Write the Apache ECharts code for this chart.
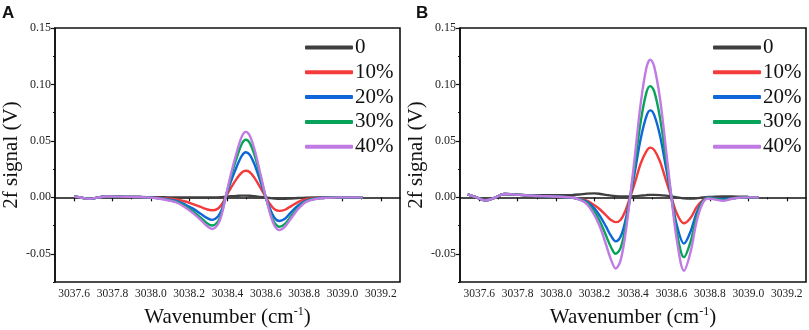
<!DOCTYPE html>
<html>
<head>
<meta charset="utf-8">
<script src="https://cdn.jsdelivr.net/npm/echarts@6/dist/echarts.min.js"></script>
<style>
  html, body { margin: 0; padding: 0; background: #fff; }
  #chart { width: 809px; height: 330px; }
</style>
</head>
<body>
<div id="chart"></div>
<script>
// concentration levels, one curve each
const levels = ["0", "10%", "20%", "30%", "40%"]

// panel A
const wavenumberA = [3037.60, 3037.64, 3037.68, 3037.72, 3037.76, 3037.80, 3037.86, 3037.92, 3037.98, 3038.04,
  3038.10, 3038.14, 3038.18, 3038.22, 3038.26, 3038.29, 3038.32, 3038.35, 3038.37, 3038.39,
  3038.42, 3038.45, 3038.475, 3038.495, 3038.515, 3038.54, 3038.57, 3038.60, 3038.625, 3038.645,
  3038.67, 3038.70, 3038.73, 3038.77, 3038.81, 3038.86, 3038.92, 3038.98, 3039.04, 3039.105]
const signalA0 = [0.0008, -0.0004, -0.0012, -0.0003, 0.0007, 0.0008, 0.0005, 0.0003, 0.0002, 0.0001,
  0, 0, 0, 0, 0, 0, 0, 0, 0.0002, 0.0005,
  0.0009, 0.0013, 0.0015, 0.0015, 0.0014, 0.001, 0.0004, -0.0002, -0.0007, -0.001,
  -0.0012, -0.0012, -0.001, -0.0006, -0.0003, -0.0001, 0, 0, 0, 0]
const signalA10 = [0.0008, -0.0004, -0.0012, -0.0003, 0.0007, 0.0008, 0.0005, 0.0003, 0, -0.0005,
  -0.0012, -0.002, -0.0037, -0.006, -0.0085, -0.0105, -0.0115, -0.010, -0.0062, 0,
  0.009, 0.017, 0.022, 0.0235, 0.0225, 0.0175, 0.009, 0, -0.0068, -0.0105,
  -0.012, -0.011, -0.008, -0.004, -0.0016, -0.0006, -0.0002, 0, 0, 0]
const signalA20 = [0.0008, -0.0004, -0.0012, -0.0003, 0.0007, 0.0008, 0.0005, 0.0003, 0, -0.0007,
  -0.002, -0.0035, -0.0065, -0.010, -0.0145, -0.018, -0.020, -0.017, -0.011, 0,
  0.015, 0.028, 0.037, 0.040, 0.038, 0.0295, 0.015, 0, -0.0115, -0.018,
  -0.021, -0.019, -0.0135, -0.007, -0.003, -0.001, -0.0003, 0, 0, 0]
const signalA30 = [0.0008, -0.0004, -0.0012, -0.0003, 0.0007, 0.0008, 0.0005, 0.0003, 0, -0.0009,
  -0.0027, -0.0045, -0.008, -0.0125, -0.018, -0.0225, -0.025, -0.0215, -0.0135, 0,
  0.0195, 0.036, 0.0475, 0.051, 0.0485, 0.038, 0.0195, 0, -0.0145, -0.0225,
  -0.026, -0.0235, -0.017, -0.009, -0.0035, -0.0013, -0.0004, 0, 0, 0]
const signalA40 = [0.0008, -0.0004, -0.0012, -0.0003, 0.0007, 0.0008, 0.0005, 0.0003, 0, -0.001,
  -0.003, -0.005, -0.009, -0.014, -0.020, -0.025, -0.028, -0.024, -0.015, 0,
  0.022, 0.041, 0.054, 0.058, 0.055, 0.043, 0.022, 0, -0.016, -0.025,
  -0.029, -0.026, -0.019, -0.010, -0.004, -0.0015, -0.0005, 0, 0, 0]

// panel B
const wavenumberB = [3037.54, 3037.58, 3037.63, 3037.68, 3037.73, 3037.78, 3037.84, 3037.90, 3037.96, 3038.02,
  3038.08, 3038.12, 3038.16, 3038.20, 3038.23, 3038.26, 3038.285, 3038.31, 3038.335, 3038.36,
  3038.385, 3038.41, 3038.44, 3038.47, 3038.49, 3038.51, 3038.54, 3038.57, 3038.60, 3038.63,
  3038.665, 3038.70, 3038.73, 3038.76, 3038.79, 3038.83, 3038.87, 3038.91, 3038.96, 3039.00, 3039.055]
const signalB0 = [0.0027, 0.0005, -0.0027, -0.0005, 0.003, 0.0025, 0.002, 0.0018, 0.0018, 0.0018,
  0.002, 0.0025, 0.0033, 0.0035, 0.003, 0.0022, 0.0015, 0.001, 0.0008, 0.0007,
  0.0008, 0.001, 0.0015, 0.002, 0.0022, 0.0022, 0.002, 0.0015, 0.0008, 0,
  -0.0008, -0.001, -0.0008, -0.0002, 0.0003, 0.0006, 0.0007, 0.0007, 0.0006, 0.0005, null]
const signalB10 = [0.0027, 0.0005, -0.0027, -0.0005, 0.003, 0.0025, 0.0018, 0.0012, 0.001, 0.0005,
  -0.0002, -0.0012, -0.003, -0.007, -0.011, -0.016, -0.020, -0.022, -0.020, -0.012,
  0, 0.013, 0.030, 0.041, 0.044, 0.042, 0.032, 0.016, 0, -0.015,
  -0.023, -0.018, -0.009, -0.003, 0, -0.0008, -0.0018, -0.001, 0, 0, 0]
const signalB20 = [0.0027, 0.0005, -0.0027, -0.0005, 0.003, 0.0025, 0.0018, 0.0012, 0.001, 0.0005,
  -0.0002, -0.0015, -0.004, -0.010, -0.017, -0.026, -0.034, -0.039, -0.035, -0.021,
  0, 0.023, 0.052, 0.072, 0.077, 0.073, 0.055, 0.028, 0, -0.026,
  -0.041, -0.030, -0.014, -0.004, 0, -0.001, -0.0015, -0.001, 0, 0, 0]
const signalB30 = [0.0027, 0.0005, -0.0027, -0.0005, 0.003, 0.0025, 0.0018, 0.0012, 0.001, 0.0005,
  -0.0002, -0.0018, -0.005, -0.013, -0.022, -0.034, -0.044, -0.050, -0.045, -0.027,
  0, 0.030, 0.067, 0.093, 0.0985, 0.094, 0.071, 0.036, 0, -0.033,
  -0.053, -0.039, -0.018, -0.005, -0.0005, -0.0015, -0.0025, -0.0012, -0.0003, 0, 0]
const signalB40 = [0.0027, 0.0005, -0.0027, -0.0005, 0.003, 0.0025, 0.0018, 0.0012, 0.001, 0.0005,
  -0.0002, -0.002, -0.006, -0.016, -0.027, -0.042, -0.055, -0.063, -0.056, -0.033,
  0, 0.037, 0.083, 0.115, 0.122, 0.116, 0.088, 0.045, 0, -0.040,
  -0.065, -0.048, -0.022, -0.006, -0.001, -0.002, -0.003, -0.0015, -0.0003, 0, 0]

// axis ticks
const xTicks = [3037.6, 3037.8, 3038.0, 3038.2, 3038.4, 3038.6, 3038.8, 3039.0, 3039.2]
const xMinorTicks = [3037.7, 3037.9, 3038.1, 3038.3, 3038.5, 3038.7, 3038.9, 3039.1]
const yTicks = [-0.05, 0, 0.05, 0.10, 0.15]
const yMinorTicks = [-0.075, -0.025, 0.025, 0.075, 0.125]

const panels = [
  { label: "A", x: wavenumberA, ys: [signalA0, signalA10, signalA20, signalA30, signalA40] },
  { label: "B", x: wavenumberB, ys: [signalB0, signalB10, signalB20, signalB30, signalB40] },
]

const colors = ["#3f3f3f", "#f43b3b", "#0e66d8", "#08a35a", "#c07ae4"]
const serif = "'Liberation Serif', 'Times New Roman', serif"
const ink = "#111"

const grids = [
  { left: 55, top: 28, width: 345, height: 254 },
  { left: 460, top: 28, width: 346, height: 254 },
]

const xAxes = []
const yAxes = []
const series = []
const legends = []
const titles = []

grids.forEach((g, i) => {
  xAxes.push({
    type: "value", gridIndex: i, position: "bottom", min: 3037.5, max: 3039.3,
    name: "Wavenumber (cm{sup|-1})", nameLocation: "middle", nameGap: 24,
    nameTextStyle: {
      fontFamily: serif, fontSize: 21, color: ink,
      rich: { sup: { fontFamily: serif, fontSize: 12, color: ink, verticalAlign: "top", padding: [0, 0, 10, 0] } },
    },
    axisLine: { lineStyle: { color: ink, width: 1.6 } },
    axisTick: { customValues: xTicks, length: 4, lineStyle: { color: ink, width: 1.2 } },
    axisLabel: { customValues: xTicks, formatter: (v) => v.toFixed(1), fontFamily: serif, fontSize: 11.5, color: "#222", margin: 6 },
    splitLine: { show: false },
  })
  xAxes.push({
    type: "value", gridIndex: i, position: "bottom", min: 3037.5, max: 3039.3,
    axisLine: { show: false },
    axisTick: { customValues: xMinorTicks, length: 2, lineStyle: { color: ink, width: 1 } },
    axisLabel: { show: false },
    splitLine: { show: false },
  })
  yAxes.push({
    type: "value", gridIndex: i, position: "left", min: -0.075, max: 0.15,
    name: "2f signal (V)", nameLocation: "middle", nameGap: 30,
    nameTextStyle: { fontFamily: serif, fontSize: 21, color: ink },
    axisLine: { lineStyle: { color: ink, width: 1.6 } },
    axisTick: { customValues: yTicks, length: 4, lineStyle: { color: ink, width: 1.2 } },
    axisLabel: { customValues: yTicks, formatter: (v) => v.toFixed(2), fontFamily: serif, fontSize: 12, color: "#222", margin: 4 },
    splitLine: { show: false },
  })
  yAxes.push({
    type: "value", gridIndex: i, position: "left", min: -0.075, max: 0.15,
    axisLine: { show: false },
    axisTick: { customValues: yMinorTicks, length: 2, lineStyle: { color: ink, width: 1 } },
    axisLabel: { show: false },
    splitLine: { show: false },
  })

  const p = panels[i]
  p.ys.forEach((vals, k) => {
    series.push({
      name: levels[k], type: "line", xAxisIndex: i * 2, yAxisIndex: i * 2,
      showSymbol: false, smooth: 0.35, connectNulls: false,
      data: p.x.map((x, j) => [x, vals[j]]),
      lineStyle: { color: colors[k], width: 2.4 },
      itemStyle: { color: colors[k] },
      z: 2 + k,
    })
  })

  legends.push({
    orient: "vertical", left: i === 0 ? 305 : 713, top: 37, padding: 0,
    data: levels, icon: "roundRect", itemWidth: 48, itemHeight: 4, itemGap: 3.8,
    textStyle: { fontFamily: serif, fontSize: 21, color: ink, lineHeight: 20, padding: [0, 0, 0, -3] },
  })
  titles.push({
    text: p.label, left: i === 0 ? 2 : 416, top: 5, padding: 0,
    textStyle: { fontFamily: "'Liberation Sans', Arial, sans-serif", fontWeight: "bold", fontSize: 17, color: ink },
  })
})

const chart = echarts.init(document.getElementById("chart"), null, { renderer: "canvas" })
chart.setOption({
  animation: false,
  backgroundColor: "#fff",
  title: titles,
  legend: legends,
  grid: grids.map((g) => ({
    ...g, show: true, borderColor: ink, borderWidth: 1.6, backgroundColor: "transparent",
    containLabel: false, outerBoundsMode: "none",
  })),
  xAxis: xAxes,
  yAxis: yAxes,
  series,
})
</script>
</body>
</html>
